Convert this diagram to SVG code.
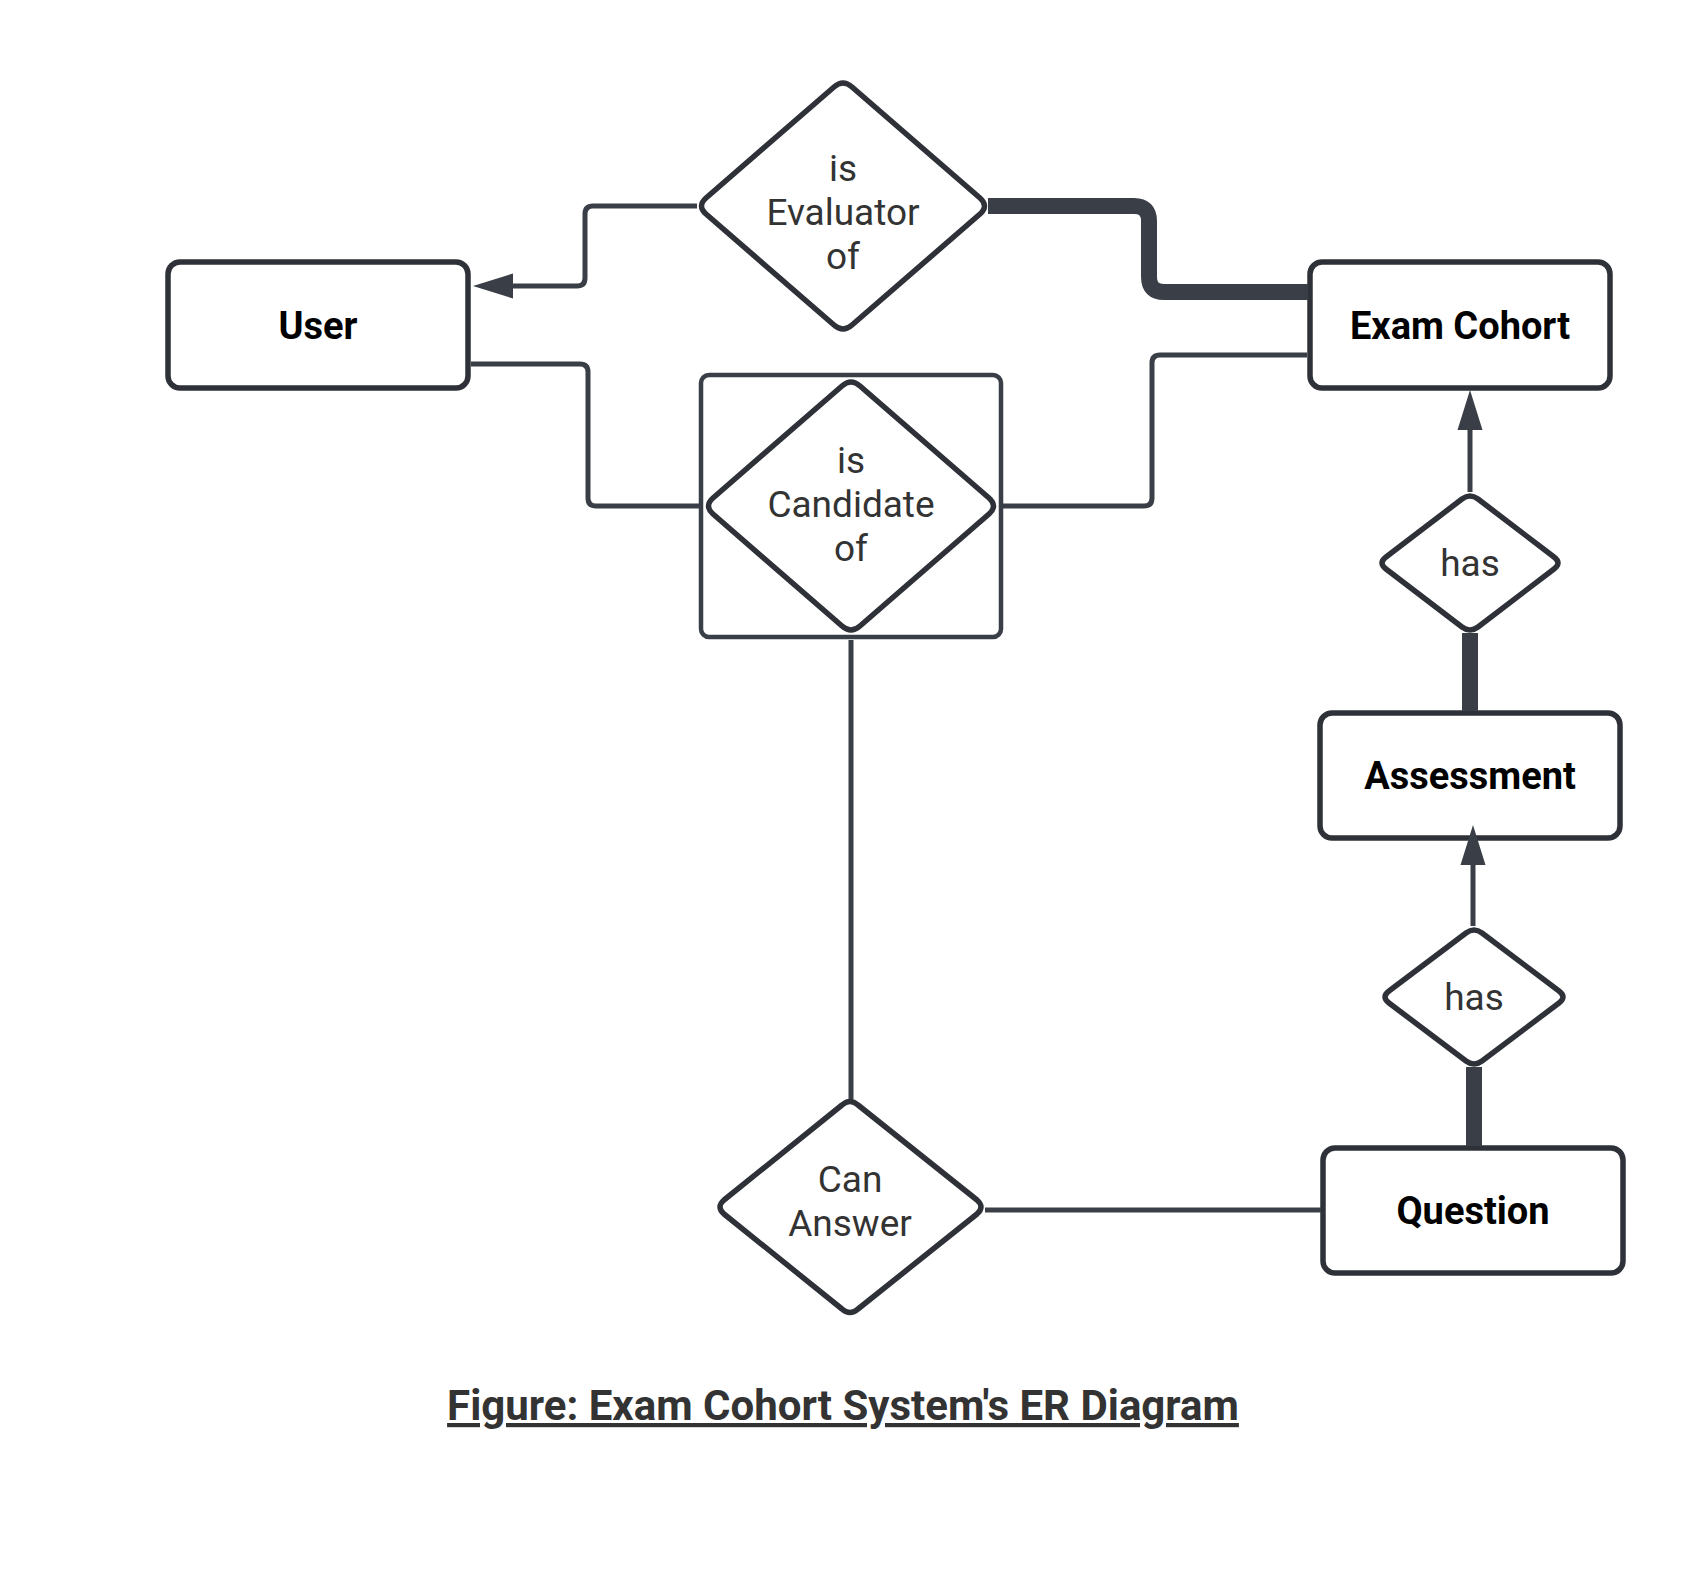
<svg xmlns="http://www.w3.org/2000/svg" width="1699" height="1573" viewBox="0 0 1699 1573">
<defs>
<style>
.conn{fill:none;stroke:#3a3f47;stroke-width:5;}
.thick{fill:none;stroke:#3a3f47;stroke-width:16;}
.ent rect{fill:#fff;stroke:#2e3238;stroke-width:5.5;}
.rel path{fill:#fff;stroke:#2e3238;stroke-width:5.5;stroke-linejoin:round;}
.et{font-family:Roboto,"Liberation Sans",sans-serif;font-weight:bold;font-size:38px;fill:#000;text-anchor:middle;}
.rt{font-family:Roboto,"Liberation Sans",sans-serif;font-size:37px;fill:#333;text-anchor:middle;}
.cap{font-family:Roboto,"Liberation Sans",sans-serif;font-weight:bold;font-size:42px;fill:#333;text-anchor:middle;text-decoration:underline;}
</style>
<marker id="arr" markerUnits="userSpaceOnUse" markerWidth="42" markerHeight="26" refX="0" refY="12.5" orient="auto" overflow="visible">
<path d="M0,0 L40,12.5 L0,25 Z" fill="#3a3f47"/>
</marker>
</defs>
<rect width="1699" height="1573" fill="#fff"/>
<g id="user" class="ent"><rect x="168" y="262" width="300" height="126" rx="12"/><text class="et" x="318" y="339">User</text></g>
<g id="exam-cohort" class="ent"><rect x="1310" y="262" width="300" height="126" rx="12"/><text class="et" x="1460" y="339">Exam Cohort</text></g>
<g id="assessment" class="ent"><rect x="1320" y="713" width="300" height="125" rx="12"/><text class="et" x="1470" y="789">Assessment</text></g>
<g id="question" class="ent"><rect x="1323" y="1148" width="300" height="125" rx="12"/><text class="et" x="1473" y="1224">Question</text></g>
<g id="is-evaluator-of" class="rel">
<path d="M834,87 Q843,79 852,87 L980,198 Q989,206 980,214 L852,325 Q843,333 834,325 L706,214 Q697,206 706,198 Z"/>
<text class="rt" x="843" y="181">is</text><text class="rt" x="843" y="225">Evaluator</text><text class="rt" x="843" y="269">of</text>
</g>
<g id="is-candidate-of" class="rel">
<rect x="701" y="375" width="300" height="262" rx="8" fill="#fff" stroke="#3a3f47" stroke-width="4.5"/>
<path d="M842,386 Q851,378 860,386 L989,498 Q998,506 989,514 L860,626 Q851,634 842,626 L713,514 Q704,506 713,498 Z"/>
<text class="rt" x="851" y="473">is</text><text class="rt" x="851" y="517">Candidate</text><text class="rt" x="851" y="561">of</text>
</g>
<g id="has-1" class="rel">
<path d="M1462,499 Q1470,493 1478,499 L1554,557 Q1562,563 1554,569 L1478,627 Q1470,633 1462,627 L1386,569 Q1378,563 1386,557 Z"/>
<text class="rt" x="1470" y="576">has</text>
</g>
<g id="has-2" class="rel">
<path d="M1466,933 Q1474,927 1482,933 L1559,991 Q1567,997 1559,1003 L1482,1061 Q1474,1067 1466,1061 L1389,1003 Q1381,997 1389,991 Z"/>
<text class="rt" x="1474" y="1010">has</text>
</g>
<g id="can-answer" class="rel">
<path d="M842,1105 Q850,1098 858,1105 L977,1200 Q985,1207 977,1214 L858,1309 Q850,1316 842,1309 L724,1214 Q716,1207 724,1200 Z"/>
<text class="rt" x="850" y="1192">Can</text><text class="rt" x="850" y="1236">Answer</text>
</g>
<g id="connectors">
<path class="conn" d="M697,206 H593 Q585,206 585,214 V278 Q585,286 577,286 H513" marker-end="url(#arr)"/>
<path class="conn" d="M471,364 H580 Q588,364 588,372 V498 Q588,506 596,506 H699"/>
<path class="conn" d="M1003,506 H1144 Q1152,506 1152,498 V363 Q1152,355 1160,355 H1307"/>
<path class="thick" d="M988,206 H1134 Q1149,206 1149,221 V277 Q1149,292 1164,292 H1308"/>
<path class="conn" d="M1470,492 V430" marker-end="url(#arr)"/>
<path class="thick" d="M1470,633 V711"/>
<path class="conn" d="M1473,926 V865" marker-end="url(#arr)"/>
<path class="thick" d="M1474,1067 V1146"/>
<path class="conn" d="M851,640 V1099"/>
<path class="conn" d="M985,1210 H1321"/>
</g>
<text class="cap" x="843" y="1420">Figure: Exam Cohort System's ER Diagram</text>
</svg>
